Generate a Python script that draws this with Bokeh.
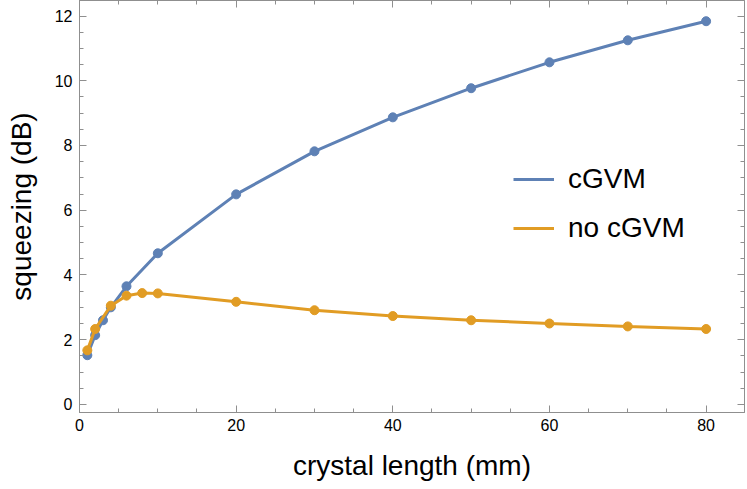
from bokeh.plotting import figure
from bokeh.models import (Range1d, LinearAxis, Legend, LegendItem, SingleIntervalTicker,
                          CustomJSTickFormatter)
from bokeh.embed import file_html
from bokeh.resources import INLINE

# data
x_cgvm = [1, 2, 3, 4, 6, 10, 20, 30, 40, 50, 60, 70, 80]
y_cgvm = [1.52, 2.14, 2.60, 3.00, 3.65, 4.67, 6.49, 7.82, 8.87, 9.77, 10.57, 11.25, 11.84]
x_nocgvm = [1, 2, 4, 6, 8, 10, 20, 30, 40, 50, 60, 70, 80]
y_nocgvm = [1.67, 2.33, 3.05, 3.36, 3.44, 3.43, 3.17, 2.91, 2.73, 2.60, 2.50, 2.41, 2.33]
series_names = ["cGVM", "no cGVM"]
x_label = "crystal length (mm)"
y_label = "squeezing (dB)"

BLUE = "#5E81B5"
ORANGE = "#E19C24"
FRAME = "#8f8f8f"
FONT = "Liberation Sans"

p = figure(width=747, height=489, output_backend="svg", toolbar_location=None,
           x_range=Range1d(0, 84.9), y_range=Range1d(-0.25, 12.48),
           x_axis_location=None, y_axis_location=None,
           min_border_left=79, min_border_right=3, min_border_top=0, min_border_bottom=77)
p.grid.visible = False
p.outline_line_color = FRAME
p.background_fill_color = "white"
p.border_fill_color = "white"

xt = SingleIntervalTicker(interval=20, num_minor_ticks=4)
yt = SingleIntervalTicker(interval=2, num_minor_ticks=4)

def style(ax, labels=True):
    ax.axis_line_color = FRAME
    ax.major_tick_line_color = FRAME
    ax.minor_tick_line_color = FRAME
    ax.major_tick_in = 7
    ax.major_tick_out = 0
    ax.minor_tick_in = 4
    ax.minor_tick_out = 0
    if labels:
        ax.major_label_text_font = FONT
        ax.major_label_text_font_size = "16px"
        ax.major_label_text_color = "black"
        ax.axis_label_text_font = FONT
        ax.axis_label_text_font_size = "28px"
        ax.axis_label_text_font_style = "normal"
        ax.axis_label_text_color = "black"
    else:
        ax.formatter = CustomJSTickFormatter(code="return ''")
        ax.major_label_standoff = 0

bx = LinearAxis(ticker=xt, axis_label=x_label)
style(bx)
bx.major_label_standoff = 6
bx.axis_label_standoff = 16
p.add_layout(bx, "below")

ly = LinearAxis(ticker=yt, axis_label=y_label)
style(ly)
ly.major_label_standoff = 7
ly.axis_label_standoff = 15
p.add_layout(ly, "left")

tx = LinearAxis(ticker=xt)
style(tx, labels=False)
p.add_layout(tx, "above")

ry = LinearAxis(ticker=yt)
style(ry, labels=False)
p.add_layout(ry, "right")

l1 = p.line(x_cgvm, y_cgvm, line_color=BLUE, line_width=3)
p.scatter(x_cgvm, y_cgvm, size=9, fill_color=BLUE, line_color=BLUE)
l2 = p.line(x_nocgvm, y_nocgvm, line_color=ORANGE, line_width=3)
p.scatter(x_nocgvm, y_nocgvm, size=9, fill_color=ORANGE, line_color=ORANGE)

legend = Legend(items=[LegendItem(label=series_names[0], renderers=[l1]),
                       LegendItem(label=series_names[1], renderers=[l2])],
                location=(434, 168), orientation="vertical",
                padding=0, margin=0, spacing=17, border_line_color=None,
                background_fill_alpha=0, glyph_width=41, glyph_height=32,
                label_height=32, label_standoff=14,
                label_text_font=FONT, label_text_font_size="28px",
                label_text_color="black")
p.add_layout(legend, "center")

open("out.html", "w").write(file_html(p, INLINE))
